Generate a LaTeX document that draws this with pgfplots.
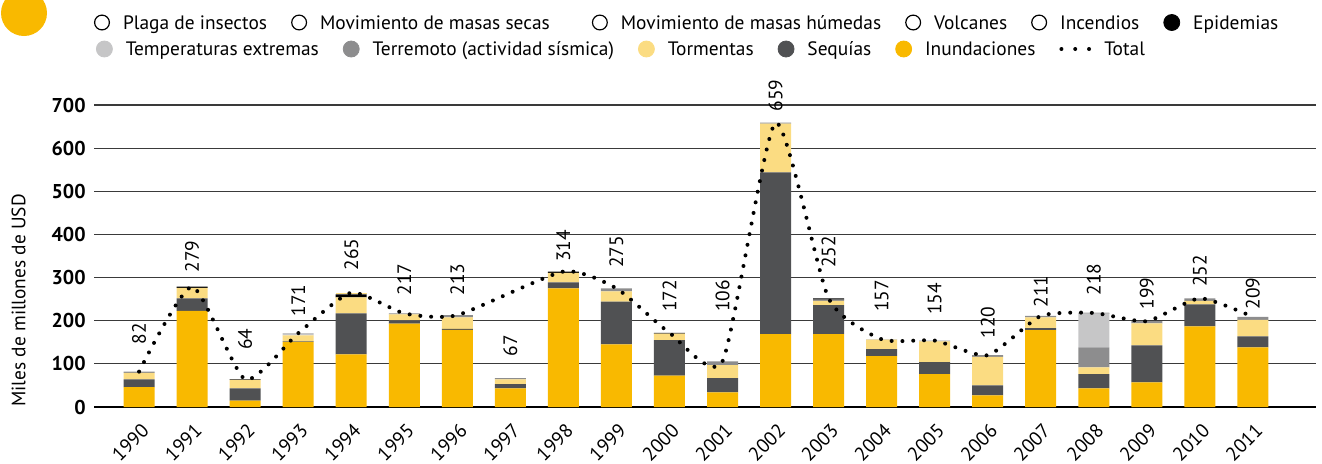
\documentclass[border=0pt]{standalone}
\usepackage{fontspec}
\setmainfont{PT Sans}
\usepackage{pgfplots}
\usepackage{pgfplotstable}
\pgfplotsset{compat=1.18}

\definecolor{cinund}{HTML}{F9B900}
\definecolor{ctorm}{HTML}{FBDC82}
\definecolor{cseq}{HTML}{505153}
\definecolor{cterr}{HTML}{8D8D8E}
\definecolor{ctemp}{HTML}{C6C6C7}
\definecolor{cgrid}{HTML}{3A3A3A}

\pgfplotstableread{
x  inund seq torm terr temp epi torm2 total tline laby
0  46   18   15   3   0   0   0    82   82   144
1  223  29   24   0   0   3   0    279  279  311
2  15   28   20   0   0   1   0    64   64   132
3  151  1    14   0   5   0   0    171  171  209
4  122  95   37   0   0   7   4    265  265  316
5  193  8    14   2   0   0   0    217  217  258
6  179  2    27   5   0   0   0    213  213  258
7  43   10   11   3   0   0   0    67   nan  116
8  275  14   22   0   0   3   0    314  314  336
9  145  99   24   7   0   0   0    275  275  322
10 73   82   15   0   0   2   0    172  172  220
11 34   33   30   9   0   0   0    106  106  220
12 169  375  113  2   0   0   0    659  659  684
13 169  67   10   3   0   3   0    252  252  322
14 118  16   22   1   0   0   0    157  157  220
15 76   28   48   2   0   0   0    154  154  213
16 27   23   66   4   0   0   0    120  120  158
17 178  5    25   3   0   0   0    211  211  230
18 43   33   16   46  79  1   0    218  218  258
19 57   86   51   5   0   0   0    199  199  225
20 187  51   8    6   0   0   0    252  252  278
21 138  26   38   7   0   0   0    209  209  225
}\datatable

\newcommand{\lf}{\fontsize{9.7}{11.5}\selectfont}

\begin{document}
\begin{tikzpicture}[font=\lf]
\fill[cinund] (12pt,-6.5pt) circle (11.5pt);

% legend row 1
\begin{axis}[hide axis, scale only axis, width=10pt, height=10pt,
  xmin=0, xmax=1, ymin=0, ymax=1,
  at={(47pt,-11.25pt)}, anchor=west,
  legend columns=-1,
  legend style={at={(0,0.5)}, anchor=west, draw=none, fill=none,
    inner sep=0pt, outer sep=0pt, font=\lf,
    /tikz/every odd column/.append style={column sep=6.5pt},
    /tikz/every even column/.append style={column sep=12pt},
    nodes={inner sep=0pt, text height=6.7pt, text depth=0pt}},
  legend cell align=left]
\addlegendimage{legend image code/.code={\draw[black, line width=0.6pt] (4pt,0pt) circle (3.7pt);}}
\addlegendentry{Plaga de insectos}
\addlegendimage{legend image code/.code={\draw[black, line width=0.6pt] (4pt,0pt) circle (3.7pt);}}
\addlegendentry{Movimiento de masas secas\hspace*{9pt}}
\addlegendimage{legend image code/.code={\draw[black, line width=0.6pt] (4pt,0pt) circle (3.7pt);}}
\addlegendentry{Movimiento de masas húmedas}
\addlegendimage{legend image code/.code={\draw[black, line width=0.6pt] (4pt,0pt) circle (3.7pt);}}
\addlegendentry{Volcanes}
\addlegendimage{legend image code/.code={\draw[black, line width=0.6pt] (4pt,0pt) circle (3.7pt);}}
\addlegendentry{Incendios}
\addlegendimage{legend image code/.code={\fill[black] (4pt,0pt) circle (4pt);}}
\addlegendentry{Epidemias}
\end{axis}

% legend row 2
\begin{axis}[hide axis, scale only axis, width=10pt, height=10pt,
  xmin=0, xmax=1, ymin=0, ymax=1,
  at={(48pt,-24.5pt)}, anchor=west,
  legend columns=-1,
  legend style={at={(0,0.5)}, anchor=west, draw=none, fill=none,
    inner sep=0pt, outer sep=0pt, font=\lf,
    /tikz/every odd column/.append style={column sep=6.5pt},
    /tikz/every even column/.append style={column sep=12pt},
    nodes={inner sep=0pt, text height=6.7pt, text depth=0pt}},
  legend cell align=left]
\addlegendimage{legend image code/.code={\fill[ctemp] (4pt,0pt) circle (4pt);}}
\addlegendentry{Temperaturas extremas}
\addlegendimage{legend image code/.code={\fill[cterr] (4pt,0pt) circle (4pt);}}
\addlegendentry{Terremoto (actividad sísmica)}
\addlegendimage{legend image code/.code={\fill[ctorm] (4pt,0pt) circle (4pt);}}
\addlegendentry{Tormentas}
\addlegendimage{legend image code/.code={\fill[cseq] (4pt,0pt) circle (4pt);}}
\addlegendentry{Sequías}
\addlegendimage{legend image code/.code={\fill[cinund] (4pt,0pt) circle (4pt);}}
\addlegendentry{Inundaciones}
\addlegendimage{legend image code/.code={\draw[black, line width=2pt, line cap=round, dash pattern=on 0pt off 6.9pt] (1pt,0pt) -- (15pt,0pt);}}
\addlegendentry{Total}
\end{axis}

% bars
\begin{axis}[
  at={(47pt,-203.5pt)}, anchor=south west,
  scale only axis, width=611pt, height=151pt,
  xmin=-0.85, xmax=22.19, ymin=0, ymax=700,
  ybar stacked, bar width=15.5pt,
  ytick={0,100,200,300,400,500,600,700},
  xtick={0,...,21},
  xticklabels={1990,1991,1992,1993,1994,1995,1996,1997,1998,1999,2000,2001,2002,2003,2004,2005,2006,2007,2008,2009,2010,2011},
  ymajorgrids, grid style={cgrid, line width=0.55pt},
  major tick length=0pt,
  axis x line*=bottom, axis y line*=left,
  y axis line style={draw=none},
  x axis line style={black, line width=1.3pt},
  /pgf/number format/assume math mode=true,
  yticklabel style={font=\bfseries\fontsize{10}{12}\selectfont, inner sep=0pt, xshift=-4pt},
  xticklabel style={font=\lf, xshift=0.6pt, yshift=-7.5pt, rotate=45, anchor=north east, inner sep=0pt},
  ylabel={Miles de millones de USD},
  ylabel style={font=\lf, at={(axis description cs:-0.0618,0)}, anchor=west, rotate=0, inner sep=0pt},
  clip=false,
]
\addplot[fill=cinund, draw=none] table[x=x, y=inund]{\datatable};
\addplot[fill=cseq, draw=none] table[x=x, y=seq]{\datatable};
\addplot[fill=ctorm, draw=none] table[x=x, y=torm]{\datatable};
\addplot[fill=cterr, draw=none] table[x=x, y=terr]{\datatable};
\addplot[fill=ctemp, draw=none] table[x=x, y=temp]{\datatable};
\addplot[fill=black, draw=none] table[x=x, y=epi]{\datatable};
\addplot[fill=ctorm, draw=none] table[x=x, y=torm2]{\datatable};
\end{axis}

% total line and labels
\begin{axis}[
  at={(47pt,-203.5pt)}, anchor=south west,
  scale only axis, width=611pt, height=151pt,
  xmin=-0.85, xmax=22.19, ymin=0, ymax=700,
  hide axis, clip=false,
  /pgf/number format/assume math mode=true,
]
\addplot[smooth, tension=0.35, black, line width=2pt, line cap=round,
  dash pattern=on 0pt off 5.4pt, mark=none, unbounded coords=discard]
  table[x=x, y=tline]{\datatable};
\addplot[draw=none, mark=none,
  nodes near coords, point meta=explicit,
  every node near coord/.append style={rotate=90, anchor=west, inner sep=0pt, font=\lf}]
  table[x=x, y=laby, meta=total]{\datatable};
\end{axis}

\pgfresetboundingbox
\path[use as bounding box] (0,0) rectangle (661pt,-231.5pt);
\end{tikzpicture}
\end{document}
